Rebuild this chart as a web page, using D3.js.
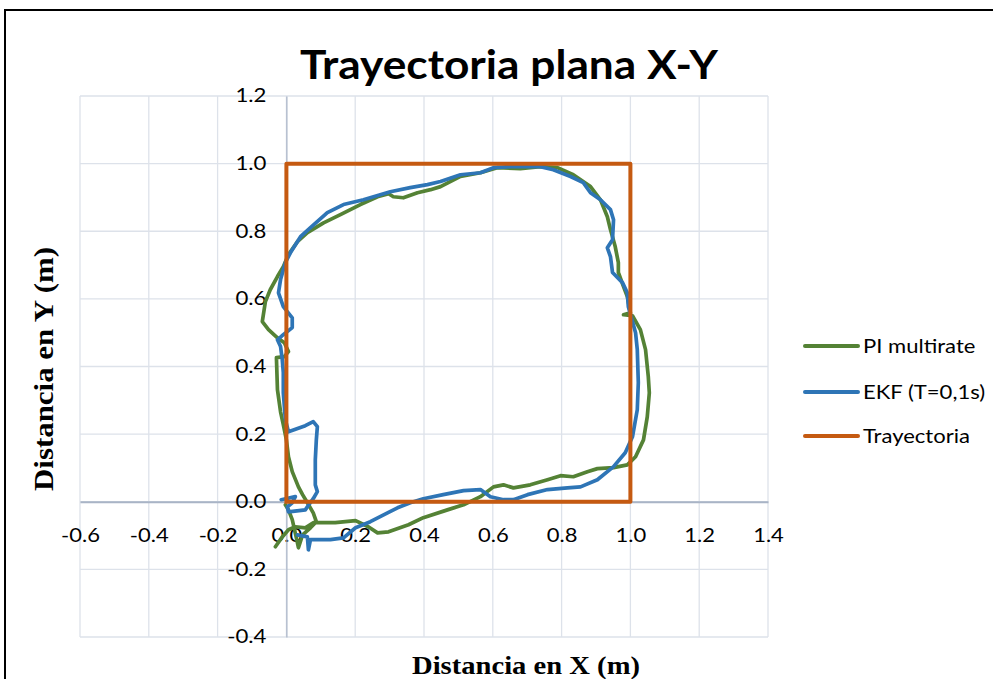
<!DOCTYPE html>
<html>
<head>
<meta charset="utf-8">
<script src="https://cdn.jsdelivr.net/npm/d3@7/dist/d3.min.js"></script>
<style>
  html, body { margin: 0; padding: 0; background: #fff; }
  svg { display: block; }
</style>
</head>
<body>
<svg id="chart" width="993" height="679"></svg>
<script>
// Axis ticks
const xTicks = [-0.6, -0.4, -0.2, 0.0, 0.2, 0.4, 0.6, 0.8, 1.0, 1.2, 1.4];
const yTicks = [-0.4, -0.2, 0.0, 0.2, 0.4, 0.6, 0.8, 1.0, 1.2];

// PI multirate (x, y) in metres
const piX = [-0.032,-0.012,0.006,0.026,0.055,0.078,0.105,0.142,0.201,0.238,0.265,0.297,0.355,0.398,0.468,0.515,0.564,0.602,0.631,0.660,0.709,0.759,0.797,0.834,0.875,0.904,0.951,0.991,1.015,1.038,1.049,1.055,1.052,1.044,1.029,1.006,0.980,1.000,0.991,0.980,0.965,0.965,0.956,0.942,0.933,0.913,0.884,0.834,0.788,0.738,0.680,0.613,0.564,0.506,0.448,0.419,0.381,0.340,0.311,0.297,0.265,0.215,0.157,0.108,0.061,0.032,0.006,-0.009,-0.026,-0.047,-0.061,-0.070,-0.052,-0.026,-0.006,0.006,-0.006,-0.029,-0.026,-0.017,-0.009,0.000,0.006,0.017,0.035,0.047,0.061,0.078,0.087,0.070,0.047,0.035,0.029,0.017,0.006,-0.003];
const piY = [-0.133,-0.104,-0.083,-0.074,-0.077,-0.062,-0.062,-0.062,-0.056,-0.074,-0.092,-0.089,-0.068,-0.047,-0.024,-0.009,0.015,0.044,0.050,0.041,0.050,0.065,0.077,0.074,0.089,0.098,0.101,0.109,0.133,0.183,0.251,0.322,0.370,0.450,0.509,0.550,0.553,0.559,0.607,0.636,0.678,0.707,0.754,0.805,0.843,0.893,0.932,0.967,0.988,0.991,0.985,0.988,0.973,0.962,0.932,0.923,0.914,0.899,0.902,0.911,0.902,0.879,0.849,0.825,0.796,0.769,0.731,0.695,0.666,0.627,0.592,0.533,0.509,0.485,0.470,0.444,0.429,0.426,0.331,0.266,0.228,0.183,0.133,0.089,0.044,0.021,-0.003,-0.033,-0.059,-0.077,-0.098,-0.136,-0.107,-0.053,-0.024,-0.009];

// EKF (T=0,1s) (x, y) in metres
const ekfX = [-0.015,0.026,0.017,0.003,0.006,0.055,0.067,0.078,0.090,0.084,0.084,0.087,0.090,0.078,0.055,0.006,-0.003,-0.009,-0.009,-0.012,-0.017,-0.026,-0.009,0.017,0.017,-0.009,-0.023,-0.017,-0.003,0.012,0.041,0.070,0.119,0.166,0.224,0.302,0.360,0.410,0.448,0.506,0.564,0.602,0.651,0.738,0.776,0.826,0.863,0.884,0.913,0.942,0.951,0.948,0.933,0.942,0.948,0.977,0.991,0.994,1.015,1.020,1.023,1.020,1.006,0.985,0.951,0.904,0.855,0.817,0.759,0.701,0.660,0.631,0.593,0.564,0.515,0.456,0.398,0.360,0.323,0.294,0.244,0.201,0.166,0.128,0.070,0.064,0.061,0.032];
const ekfY = [0.006,0.015,-0.003,-0.015,-0.030,-0.024,-0.006,0.009,0.030,0.050,0.124,0.183,0.222,0.237,0.225,0.207,0.243,0.322,0.382,0.420,0.459,0.479,0.494,0.515,0.544,0.577,0.618,0.657,0.707,0.737,0.784,0.811,0.855,0.879,0.893,0.917,0.929,0.938,0.947,0.967,0.973,0.988,0.991,0.991,0.982,0.962,0.944,0.914,0.893,0.864,0.834,0.775,0.751,0.725,0.678,0.648,0.618,0.577,0.500,0.450,0.352,0.272,0.192,0.145,0.104,0.065,0.044,0.041,0.036,0.021,0.006,0.006,0.015,0.036,0.033,0.021,0.009,-0.003,-0.018,-0.033,-0.059,-0.077,-0.107,-0.112,-0.112,-0.142,-0.104,-0.098];

// Reference path (unit square)
const refX = [0, 1, 1, 0, 0];
const refY = [0, 0, 1, 1, 0];

const seriesNames = ["PI multirate", "EKF (T=0,1s)", "Trayectoria"];
const seriesColors = ["#548235", "#2e75b6", "#c55a11"];

const svg = d3.select("#chart");
const W = 993, H = 679;
const sans = "Lato, 'Open Sans', sans-serif";
const serif = "'Liberation Serif', 'Times New Roman', serif";

// Widen text horizontally by a factor (glyphs stretched, position kept by anchor)
function widen(sel, factor) {
  sel.each(function () {
    const w = this.getComputedTextLength();
    d3.select(this).attr("textLength", w * factor).attr("lengthAdjust", "spacingAndGlyphs");
  });
}

// Chart frame
svg.append("rect").attr("x", 5).attr("y", 10).attr("width", W + 10).attr("height", H + 10)
  .attr("fill", "#fff").attr("stroke", "#000").attr("stroke-width", 2);

const x = d3.scaleLinear().domain([-0.6, 1.4]).range([80, 768]);
const y = d3.scaleLinear().domain([-0.4, 1.2]).range([637, 96]);

const gridColor = "#dde2ea";
const axisColor = "#a9b4c6";

// Gridlines
svg.append("g").selectAll("line").data(xTicks).join("line")
  .attr("x1", d => x(d)).attr("x2", d => x(d)).attr("y1", y(1.2)).attr("y2", y(-0.4))
  .attr("stroke", gridColor).attr("stroke-width", 1.3);
svg.append("g").selectAll("line").data(yTicks).join("line")
  .attr("x1", x(-0.6)).attr("x2", x(1.4)).attr("y1", d => y(d)).attr("y2", d => y(d))
  .attr("stroke", gridColor).attr("stroke-width", 1.3);

// Axes through the origin
const fmt = d => d3.format(".1f")(d).replace("−", "-");
const xAxis = d3.axisBottom(x).tickValues(xTicks).tickFormat(fmt).tickSize(0).tickPadding(26);
const yAxis = d3.axisLeft(y).tickValues(yTicks).tickFormat(fmt).tickSize(0).tickPadding(20);

const gx = svg.append("g").attr("transform", `translate(0,${y(0)})`).call(xAxis);
gx.select(".domain").attr("stroke", axisColor).attr("stroke-width", 2);
gx.selectAll("text").attr("font-family", sans).attr("font-size", 20).attr("fill", "#000");
widen(gx.selectAll("text"), 1.1);

const gy = svg.append("g").attr("transform", `translate(${x(0)},0)`).call(yAxis);
gy.select(".domain").attr("stroke", axisColor).attr("stroke-width", 1.2);
gy.selectAll("text").attr("font-family", sans).attr("font-size", 18.5).attr("fill", "#000");
widen(gy.selectAll("text"), 1.2);

// Series
const line = d3.line().x(d => x(d[0])).y(d => y(d[1])).curve(d3.curveLinear);
const toPts = (xs, ys) => xs.map((v, i) => [v, ys[i]]);
const data = [toPts(piX, piY), toPts(ekfX, ekfY), toPts(refX, refY)];
const widths = [3.7, 3.7, 4];

svg.append("g").selectAll("path").data(data).join("path")
  .attr("d", line)
  .attr("fill", "none")
  .attr("stroke", (d, i) => seriesColors[i])
  .attr("stroke-width", (d, i) => widths[i])
  .attr("stroke-linejoin", "round")
  .attr("stroke-linecap", (d, i) => i === 2 ? "square" : "round");

// Title
const title = svg.append("text").attr("x", 509).attr("y", 79).attr("text-anchor", "middle")
  .attr("font-family", sans).attr("font-weight", "bold").attr("font-size", 41)
  .attr("fill", "#000").text("Trayectoria plana X-Y");
title.attr("textLength", 418).attr("lengthAdjust", "spacingAndGlyphs");

// Axis titles
svg.append("text").attr("x", 526).attr("y", 674).attr("text-anchor", "middle")
  .attr("font-family", serif).attr("font-weight", "bold").attr("font-size", 26)
  .attr("fill", "#000").text("Distancia en X (m)")
  .attr("textLength", 228).attr("lengthAdjust", "spacingAndGlyphs");
svg.append("text").attr("transform", "translate(53,369) rotate(-90)").attr("text-anchor", "middle")
  .attr("font-family", serif).attr("font-weight", "bold").attr("font-size", 27)
  .attr("fill", "#000").text("Distancia en Y (m)")
  .attr("textLength", 244).attr("lengthAdjust", "spacingAndGlyphs");

// Legend
const legY = [346, 392, 436];
const leg = svg.append("g").selectAll("g").data(seriesNames).join("g")
  .attr("transform", (d, i) => `translate(805,${legY[i]})`);
leg.append("line").attr("x1", 0).attr("x2", 53).attr("y1", 0).attr("y2", 0)
  .attr("stroke", (d, i) => seriesColors[i]).attr("stroke-width", 4).attr("stroke-linecap", "round");
const legText = leg.append("text").attr("x", 58).attr("y", 0).attr("dy", "0.36em")
  .attr("font-family", sans).attr("font-size", 19).attr("fill", "#000")
  .text(d => d);
widen(legText, 1.16);
</script>
</body>
</html>
